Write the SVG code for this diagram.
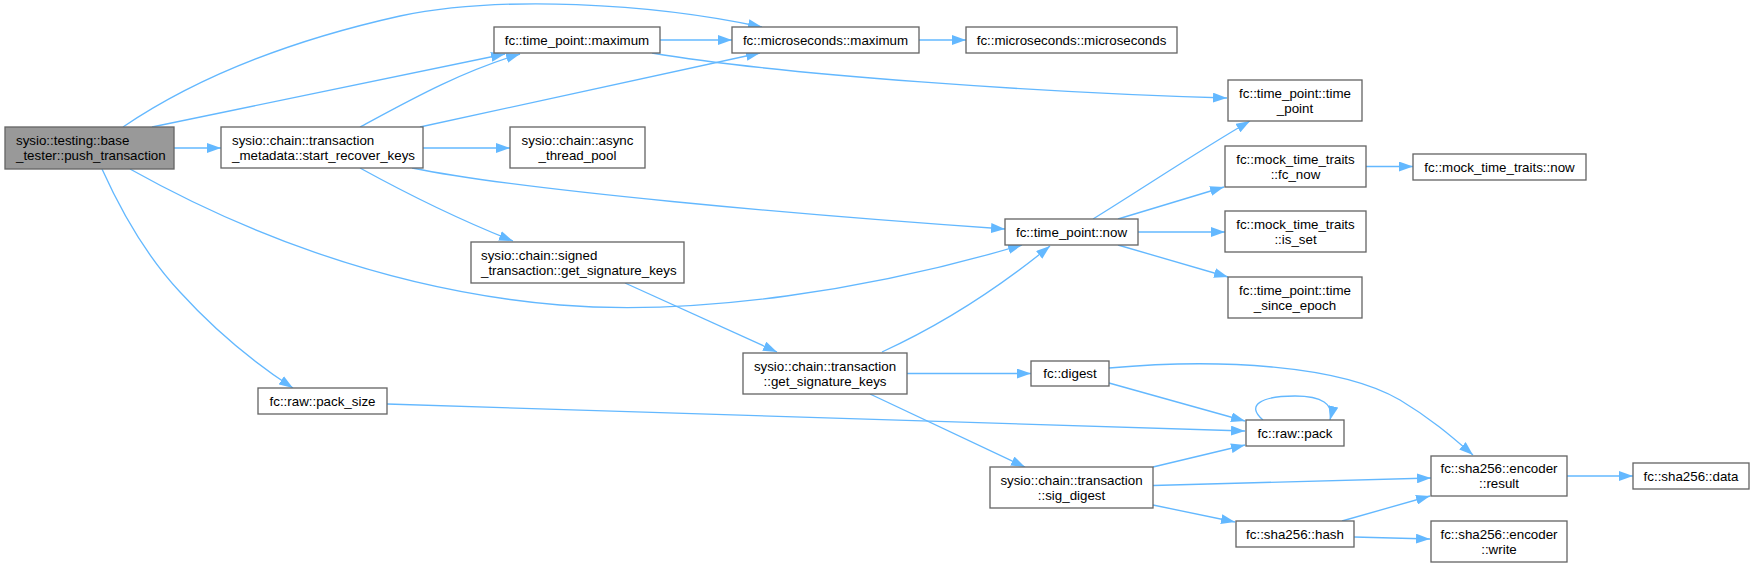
<svg xmlns="http://www.w3.org/2000/svg" width="1754" height="567" viewBox="0 0 1754 567">
<style>
.node rect{fill:#ffffff;stroke:#666666;stroke-width:1.33}
.node.root rect{fill:#999999}
.node text{font-family:"Liberation Sans",Arial,sans-serif;font-size:13.33px;fill:#000000}
.c{text-anchor:middle}
.l{text-anchor:start}
#edges path{fill:none;stroke:#63b8ff;stroke-width:1.33;marker-end:url(#arr)}
</style>
<defs>
<marker id="arr" markerUnits="userSpaceOnUse" markerWidth="14" markerHeight="10" viewBox="0 0 13.3 9.4" refX="13.3" refY="4.7" orient="auto">
<path d="M0,0 L13.3,4.7 L0,9.4 z" fill="#63b8ff"/>
</marker>
</defs>
<rect width="1754" height="567" fill="#ffffff"/>
<g id="edges">
<path d="M174,148 L221,148"/>
<path d="M152,127 L505,54"/>
<path d="M360,127 C410,100 460,72 520,54"/>
<path d="M123,127 C185,85 270,45 400,16 C500,-5 650,3 762,27"/>
<path d="M660,40 L732,40"/>
<path d="M420,127 L760,53"/>
<path d="M652,53 C780,75 1050,93 1227,98"/>
<path d="M919,40 L966,40"/>
<path d="M423,148 L510,148"/>
<path d="M412,168 C520,190 800,215 1005,229"/>
<path d="M360,168 C400,190 460,220 513,241"/>
<path d="M130,169 C230,225 380,290 560,305 C700,316 870,290 1022,245"/>
<path d="M102,169 C125,220 150,260 180,292 C210,325 250,360 293,388"/>
<path d="M1093,219 C1140,190 1200,150 1250,121"/>
<path d="M1118,219 L1224,187"/>
<path d="M1138,232 L1225,232"/>
<path d="M1118,245 L1228,277"/>
<path d="M1366,166.5 L1413,166.5"/>
<path d="M625,283 L777,352"/>
<path d="M882,352 C930,330 990,295 1050,246"/>
<path d="M907,373.5 L1031,373.5"/>
<path d="M870,394 L1025,467"/>
<path d="M387,404 C700,414 1000,424 1245,431"/>
<path d="M1109,383 L1245,421"/>
<path d="M1109,368 C1220,358 1340,365 1400,400 C1430,418 1450,435 1473,455"/>
<path d="M1263,420 C1245,405 1262,396 1295,396 C1322,396 1334,404 1330,420"/>
<path d="M1153,467 L1245,445"/>
<path d="M1153,485.5 L1431,478"/>
<path d="M1153,505 L1235,522"/>
<path d="M1342,521 L1430,496"/>
<path d="M1354,537 L1430,539"/>
<path d="M1567,476 L1633,476"/>
</g>
<g id="n_push" class="node root"><rect x="5" y="127" width="169" height="42"/><text class="l" x="16" y="145.2">sysio::testing::base</text><text class="l" x="16" y="160.2">_tester::push_transaction</text></g>
<g id="n_srk" class="node"><rect x="221" y="127" width="202" height="41"/><text class="l" x="232" y="144.7">sysio::chain::transaction</text><text class="l" x="232" y="159.7">_metadata::start_recover_keys</text></g>
<g id="n_tpmax" class="node"><rect x="494" y="27" width="166" height="26"/><text class="c" x="577" y="44.7">fc::time_point::maximum</text></g>
<g id="n_usmax" class="node"><rect x="732" y="27" width="187" height="26"/><text class="c" x="825.5" y="44.7">fc::microseconds::maximum</text></g>
<g id="n_usus" class="node"><rect x="966" y="27" width="211" height="26"/><text class="c" x="1071.5" y="44.7">fc::microseconds::microseconds</text></g>
<g id="n_async" class="node"><rect x="510" y="127" width="135" height="41"/><text class="c" x="577.5" y="144.7">sysio::chain::async</text><text class="c" x="577.5" y="159.7">_thread_pool</text></g>
<g id="n_sgsk" class="node"><rect x="471" y="242" width="213" height="41"/><text class="l" x="481" y="259.7">sysio::chain::signed</text><text class="l" x="481" y="274.7">_transaction::get_signature_keys</text></g>
<g id="n_tptp" class="node"><rect x="1228" y="80" width="134" height="41"/><text class="c" x="1295" y="97.7">fc::time_point::time</text><text class="c" x="1295" y="112.7">_point</text></g>
<g id="n_fcnow" class="node"><rect x="1225" y="146" width="141" height="41"/><text class="c" x="1295.5" y="163.7">fc::mock_time_traits</text><text class="c" x="1295.5" y="178.7">::fc_now</text></g>
<g id="n_mtnow" class="node"><rect x="1413" y="154" width="173" height="26"/><text class="c" x="1499.5" y="171.7">fc::mock_time_traits::now</text></g>
<g id="n_isset" class="node"><rect x="1225" y="211" width="141" height="41"/><text class="c" x="1295.5" y="228.7">fc::mock_time_traits</text><text class="c" x="1295.5" y="243.7">::is_set</text></g>
<g id="n_tse" class="node"><rect x="1228" y="277" width="134" height="41"/><text class="c" x="1295" y="294.7">fc::time_point::time</text><text class="c" x="1295" y="309.7">_since_epoch</text></g>
<g id="n_tpnow" class="node"><rect x="1005" y="219" width="133" height="26"/><text class="c" x="1071.5" y="236.7">fc::time_point::now</text></g>
<g id="n_tgsk" class="node"><rect x="743" y="353" width="164" height="41"/><text class="c" x="825" y="370.7">sysio::chain::transaction</text><text class="c" x="825" y="385.7">::get_signature_keys</text></g>
<g id="n_digest" class="node"><rect x="1031" y="361" width="78" height="25"/><text class="c" x="1070" y="378.2">fc::digest</text></g>
<g id="n_packsize" class="node"><rect x="258" y="388" width="129" height="26"/><text class="c" x="322.5" y="405.7">fc::raw::pack_size</text></g>
<g id="n_pack" class="node"><rect x="1246" y="420" width="98" height="26"/><text class="c" x="1295" y="437.7">fc::raw::pack</text></g>
<g id="n_sig" class="node"><rect x="990" y="467" width="163" height="41"/><text class="c" x="1071.5" y="484.7">sysio::chain::transaction</text><text class="c" x="1071.5" y="499.7">::sig_digest</text></g>
<g id="n_result" class="node"><rect x="1431" y="456" width="136" height="40"/><text class="c" x="1499" y="473.2">fc::sha256::encoder</text><text class="c" x="1499" y="488.2">::result</text></g>
<g id="n_data" class="node"><rect x="1633" y="463" width="116" height="26"/><text class="c" x="1691" y="480.7">fc::sha256::data</text></g>
<g id="n_hash" class="node"><rect x="1236" y="521" width="118" height="26"/><text class="c" x="1295" y="538.7">fc::sha256::hash</text></g>
<g id="n_write" class="node"><rect x="1431" y="521" width="136" height="41"/><text class="c" x="1499" y="538.7">fc::sha256::encoder</text><text class="c" x="1499" y="553.7">::write</text></g>
</svg>
